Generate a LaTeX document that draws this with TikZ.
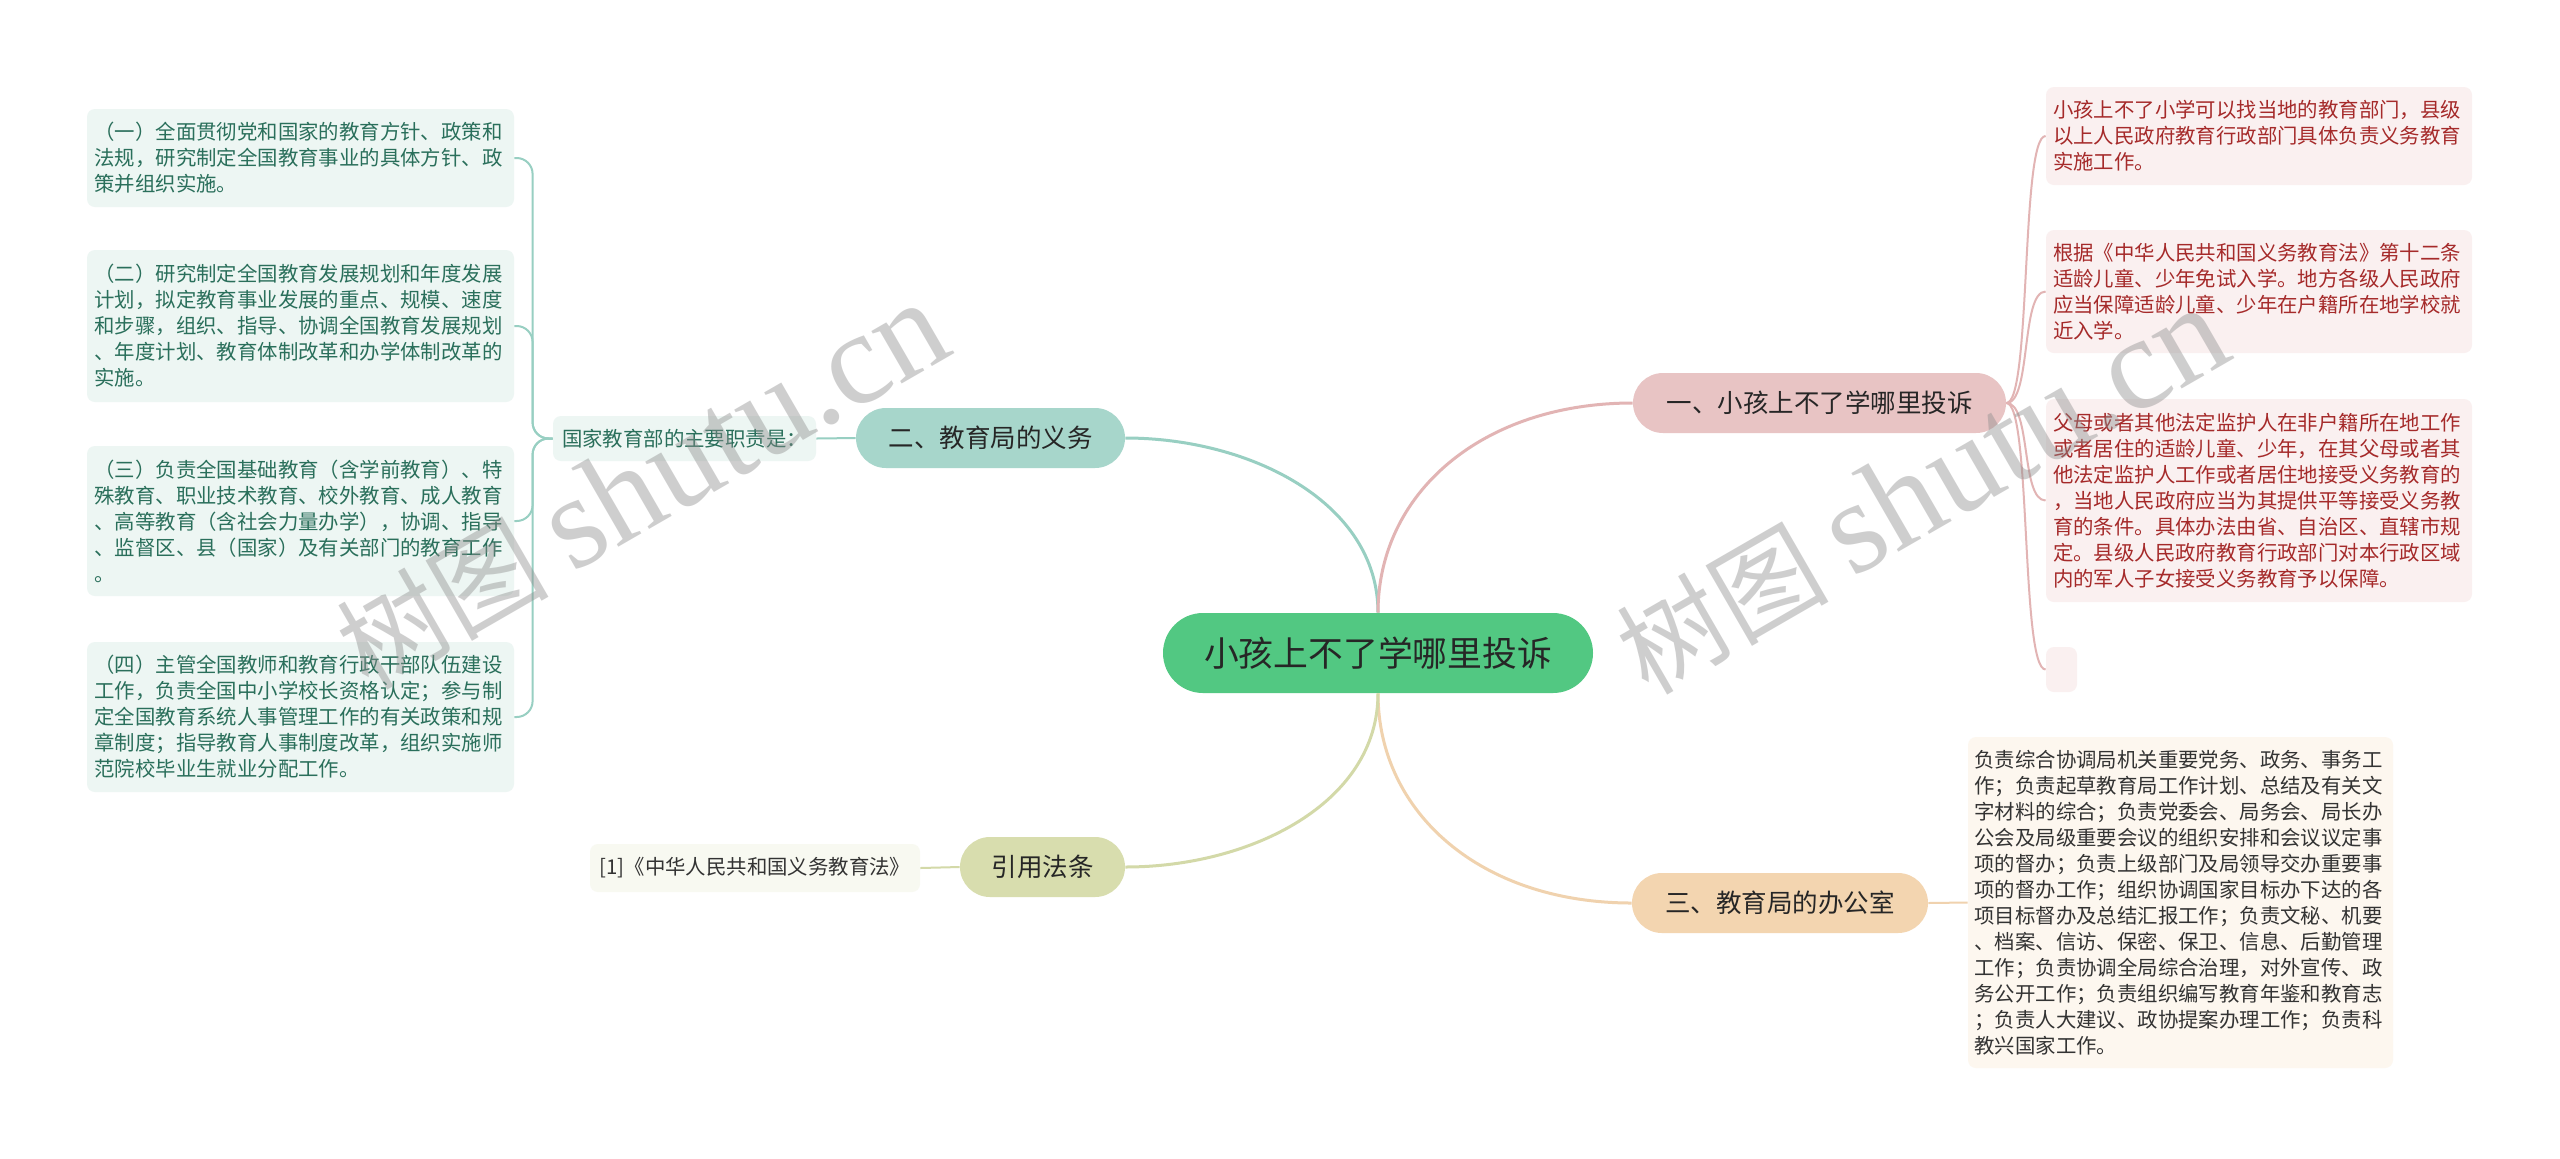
\documentclass[tikz,border=0pt]{standalone}
\usepackage{fontspec}
\setmainfont{Noto Sans CJK SC}
\newfontfamily\wmserif{Liberation Serif}
\usetikzlibrary{calc}
\definecolor{cgreen}{HTML}{52C882}
\definecolor{tfill}{HTML}{A7D6CB}
\definecolor{colT}{HTML}{98CFC2}
\definecolor{pfill}{HTML}{E8C4C4}
\definecolor{colP}{HTML}{E2B4B4}
\definecolor{ofill}{HTML}{F3D5B0}
\definecolor{colO}{HTML}{F0D2AE}
\definecolor{yfill}{HTML}{D8DDAE}
\definecolor{colY}{HTML}{D3D9A8}
\definecolor{lfill}{HTML}{EDF6F3}
\definecolor{ltext}{HTML}{2A6F5B}
\definecolor{prfill}{HTML}{FAF0F0}
\definecolor{prtext}{HTML}{A52A2A}
\definecolor{offill}{HTML}{FDF7EF}
\definecolor{reffill}{HTML}{F8F9F1}
\definecolor{dtext}{HTML}{333333}
\tikzset{
  cnode/.style={fill=cgreen, rounded corners=20pt, minimum height=40pt, minimum width=215pt,
    inner sep=0pt, font=\fontsize{17.4}{20}\selectfont, text=black!85},
  bnode/.style={rounded corners=15pt, minimum height=30pt, inner sep=0pt,
    font=\fontsize{12.75}{15}\selectfont, text=black!85},
  sbox/.style={rounded corners=4pt, inner sep=0pt, font=\fontsize{10.2}{13}\selectfont},
  lbox/.style={sbox, fill=lfill, text=ltext, minimum width=213.5pt, text width=206pt, align=left},
  prbox/.style={sbox, fill=prfill, text=prtext, minimum width=213pt, text width=206pt, align=left},
  mainline/.style={line width=1.5pt},
  subline/.style={line width=1pt},
  wm/.style={inner sep=0pt, text=black!45, text opacity=0.42, font=\fontsize{53}{53}\selectfont}
}
\begin{document}
\begin{tikzpicture}[x=0.5pt,y=-0.5pt]
\useasboundingbox[fill=white] (0,0) rectangle (2560,1158);

% central and branches
\node[cnode] (c) at (1378,653) {小孩上不了学哪里投诉};
\node[bnode, fill=pfill, minimum width=186.5pt] (b1) at (1819.5,403) {一、小孩上不了学哪里投诉};
\node[bnode, fill=tfill, minimum width=134.5pt] (b2) at (990.5,438) {二、教育局的义务};
\node[bnode, fill=ofill, minimum width=148pt] (b3) at (1780,903) {三、教育局的办公室};
\node[bnode, fill=yfill, minimum width=82.5pt] (b4) at (1042.5,867) {引用法条};

% left branch children
\node[sbox, fill=lfill, text=ltext, minimum height=22.5pt, minimum width=131.5pt] (z) at (684.5,438.5) {国家教育部的主要职责是：};
\node[lbox, minimum height=49pt] (L1) at (300.5,158) {（一）全面贯彻党和国家的教育方针、政策和\\法规，研究制定全国教育事业的具体方针、政\\策并组织实施。};
\node[lbox, minimum height=76pt] (L2) at (300.5,326) {（二）研究制定全国教育发展规划和年度发展\\计划，拟定教育事业发展的重点、规模、速度\\和步骤，组织、指导、协调全国教育发展规划\\、年度计划、教育体制改革和办学体制改革的\\实施。};
\node[lbox, minimum height=75pt] (L3) at (300.5,521) {（三）负责全国基础教育（含学前教育）、特\\殊教育、职业技术教育、校外教育、成人教育\\、高等教育（含社会力量办学），协调、指导\\、监督区、县（国家）及有关部门的教育工作\\。};
\node[lbox, minimum height=75pt] (L4) at (300.5,717) {（四）主管全国教师和教育行政干部队伍建设\\工作，负责全国中小学校长资格认定；参与制\\定全国教育系统人事管理工作的有关政策和规\\章制度；指导教育人事制度改革，组织实施师\\范院校毕业生就业分配工作。};

% right pink children
\node[prbox, minimum height=49pt] (P1) at (2259,136) {小孩上不了小学可以找当地的教育部门，县级\\以上人民政府教育行政部门具体负责义务教育\\实施工作。};
\node[prbox, minimum height=61.5pt] (P2) at (2259,291.5) {根据《中华人民共和国义务教育法》第十二条\\适龄儿童、少年免试入学。地方各级人民政府\\应当保障适龄儿童、少年在户籍所在地学校就\\近入学。};
\node[prbox, minimum height=101.5pt] (P3) at (2259,500.5) {父母或者其他法定监护人在非户籍所在地工作\\或者居住的适龄儿童、少年，在其父母或者其\\他法定监护人工作或者居住地接受义务教育的\\，当地人民政府应当为其提供平等接受义务教\\育的条件。具体办法由省、自治区、直辖市规\\定。县级人民政府教育行政部门对本行政区域\\内的军人子女接受义务教育予以保障。};
\node[sbox, fill=prfill, minimum width=15.5pt, minimum height=22.5pt] (P4) at (2061.5,669.5) {};

% office
\node[sbox, fill=offill, text=dtext, minimum width=212.5pt, minimum height=165.5pt, text width=206pt, align=left] (O) at (2180.5,902.5) {负责综合协调局机关重要党务、政务、事务工\\作；负责起草教育局工作计划、总结及有关文\\字材料的综合；负责党委会、局务会、局长办\\公会及局级重要会议的组织安排和会议议定事\\项的督办；负责上级部门及局领导交办重要事\\项的督办工作；组织协调国家目标办下达的各\\项目标督办及总结汇报工作；负责文秘、机要\\、档案、信访、保密、保卫、信息、后勤管理\\工作；负责协调全局综合治理，对外宣传、政\\务公开工作；负责组织编写教育年鉴和教育志\\；负责人大建议、政协提案办理工作；负责科\\教兴国家工作。};

% reference
\node[sbox, fill=reffill, text=dtext, minimum width=165pt, minimum height=24pt] (R) at (755,868) {[1]《中华人民共和国义务教育法》};

% main connectors
\draw[mainline, colT] (c.north) .. controls +(0,-110) and +(125,0) .. (b2.east);
\draw[mainline, colP] (c.north) .. controls +(0,-120) and +(-150,0) .. (b1.west);
\draw[mainline, colO] (c.south) .. controls +(0,120) and +(-150,0) .. (b3.west);
\draw[mainline, colY] (c.south) .. controls +(0,110) and +(125,0) .. (b4.east);

% child connectors
\draw[subline, colT] (b2.west) -- (z.east);
\foreach \i in {1,...,4}
  \draw[subline, colT, rounded corners=8pt] (z.west) -- ++(-20,0) |- (L\i.east);
\foreach \i in {1,...,4}
  \draw[subline, colP] (b1.east) .. controls +(25,0) and +(-25,0) .. (P\i.west);
\draw[subline, colO] (b3.east) -- (O.west);
\draw[subline, colY] (b4.west) -- (R.east);

% watermarks
\node[wm, anchor=base west, rotate=30] (w1) at (368,692) {树图 {\wmserif\fontsize{66}{66}\selectfont shutu.cn}};
\node[wm, anchor=base west, rotate=30] (w2) at (1648,697) {树图 {\wmserif\fontsize{66}{66}\selectfont shutu.cn}};
\end{tikzpicture}
\end{document}
